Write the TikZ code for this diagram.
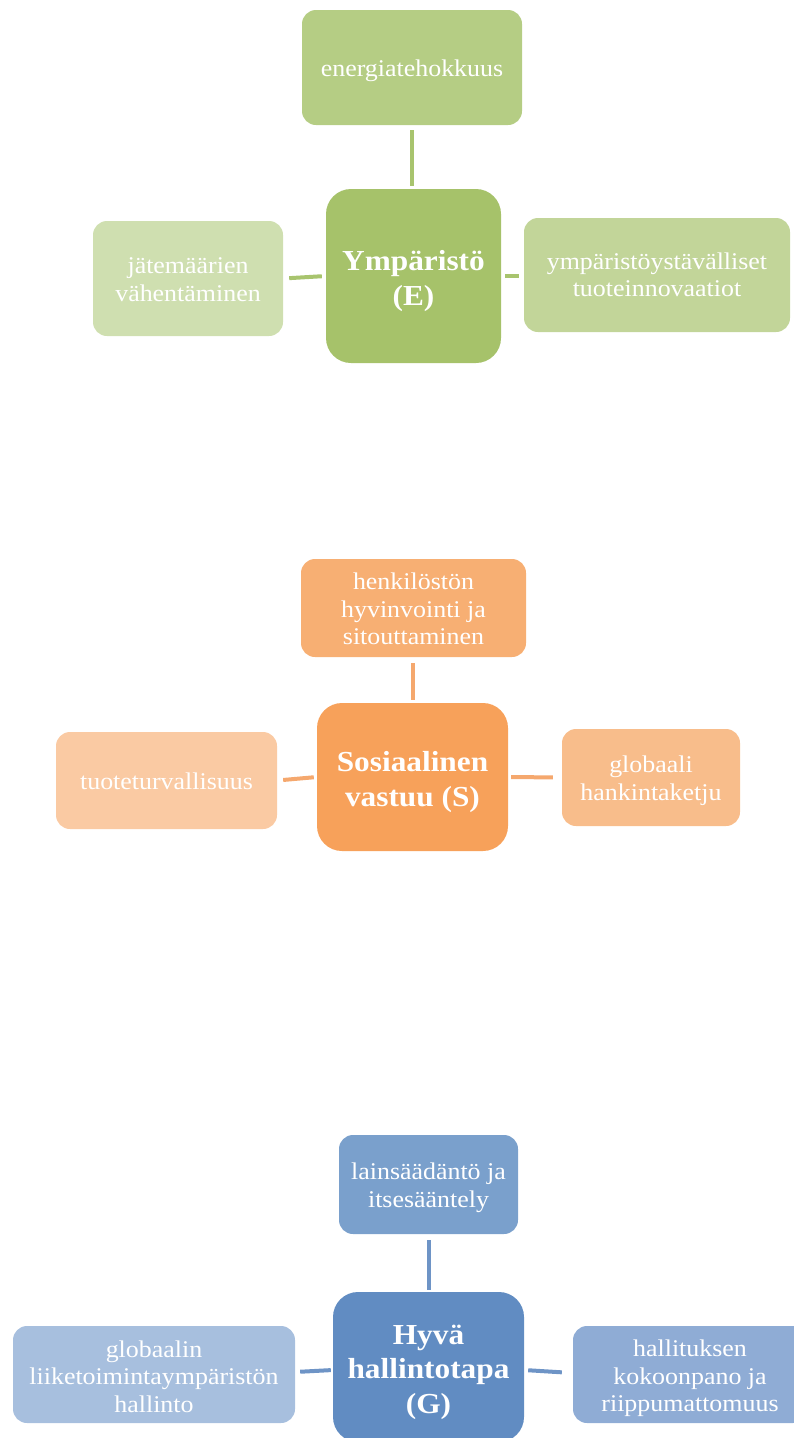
\documentclass[tikz,border=0pt]{standalone}
\usepackage{fontspec}
\setmainfont{Liberation Serif}[FakeStretch=1.08]
\definecolor{eC}{RGB}{166,194,106}
\definecolor{eT}{RGB}{181,205,132}
\definecolor{eR}{RGB}{194,213,153}
\definecolor{eL}{RGB}{207,223,176}
\definecolor{eLine}{RGB}{168,196,110}
\definecolor{sC}{RGB}{247,161,90}
\definecolor{sT}{RGB}{247,175,115}
\definecolor{sR}{RGB}{248,189,139}
\definecolor{sL}{RGB}{250,202,163}
\definecolor{sLine}{RGB}{245,168,110}
\definecolor{gC}{RGB}{97,140,194}
\definecolor{gT}{RGB}{122,160,204}
\definecolor{gR}{RGB}{143,172,213}
\definecolor{gL}{RGB}{167,191,222}
\definecolor{gLine}{RGB}{110,148,198}
\tikzset{
  leafbox/.style={draw=none, rounded corners=14pt, inner sep=0pt},
  hubbox/.style={draw=none, rounded corners=25pt, inner sep=0pt},
  leaftext/.style={inner sep=0pt, align=center, text=white,
    font=\fontsize{24}{27.5}\selectfont},
  hubtext/.style={inner sep=0pt, align=center, text=white,
    font=\fontsize{29}{34.5}\selectfont\bfseries},
  link/.style={line width=4pt}
}
\begin{document}
\begin{tikzpicture}[x=1pt,y=-1pt]
\useasboundingbox (0,0) rectangle (794,1438);
% ---------- E ----------
\node[leafbox, fill=eT, minimum width=220pt, minimum height=115pt] (eTn) at (412,67.5) {};
\node[hubbox, fill=eC, minimum width=175pt, minimum height=174pt] (eCn) at (413.5,276) {};
\node[leafbox, fill=eL, minimum width=190pt, minimum height=115pt] (eLn) at (188,278.5) {};
\node[leafbox, fill=eR, minimum width=266pt, minimum height=114pt] (eRn) at (657,275) {};
\node[leaftext, yshift=-3pt] (eTx) at (eTn.center) {energiatehokkuus};
\node[hubtext, yshift=-5pt] (eCx) at (eCn.center) {Ympäristö\\(E)};
\node[leaftext, yshift=-1pt] (eLx) at (eLn.center) {jätemäärien\\vähentäminen};
\node[leaftext, yshift=0pt] (eRx) at (eRn.center) {ympäristöystävälliset\\tuoteinnovaatiot};
\draw[link, eLine, shorten <=5pt, shorten >=3pt] (eTn.south) -- (eTn.south |- eCn.north);
\draw[link, eLine, shorten <=6pt, shorten >=4pt] (eLn.east) -- (eCn.west);
\draw[link, eLine, shorten <=4pt, shorten >=5pt] (eCn.east) -- (eCn.east -| eRn.west);
% ---------- S ----------
\node[leafbox, fill=sT, minimum width=225pt, minimum height=98pt] (sTn) at (413.5,608) {};
\node[hubbox, fill=sC, minimum width=191pt, minimum height=148pt] (sCn) at (412.5,777) {};
\node[leafbox, fill=sL, minimum width=221pt, minimum height=97pt] (sLn) at (166.5,780.5) {};
\node[leafbox, fill=sR, minimum width=178pt, minimum height=97pt] (sRn) at (651,777.5) {};
\node[leaftext, yshift=-1pt] (sTx) at (sTn.center) {henkilöstön\\hyvinvointi ja\\sitouttaminen};
\node[hubtext, yshift=-5pt] (sCx) at (sCn.center) {Sosiaalinen\\vastuu (S)};
\node[leaftext, yshift=-1pt] (sLx) at (sLn.center) {tuoteturvallisuus};
\node[leaftext, yshift=-3pt] (sRx) at (sRn.center) {globaali\\hankintaketju};
\draw[link, sLine, shorten <=6pt, shorten >=3pt] (sTn.south -| sCn.north) -- (sCn.north);
\draw[link, sLine, shorten <=6pt, shorten >=3pt] (sLn.east) -- (sCn.west);
\draw[link, sLine, shorten <=3pt, shorten >=9pt] (sCn.east) -- (sRn.west);
% ---------- G ----------
\node[leafbox, fill=gT, minimum width=179pt, minimum height=99pt] (gTn) at (428.5,1184.5) {};
\node[hubbox, fill=gC, minimum width=191pt, minimum height=150pt] (gCn) at (428.5,1367) {};
\node[leafbox, fill=gL, minimum width=282pt, minimum height=97pt] (gLn) at (154,1374.5) {};
\node[leafbox, fill=gR, minimum width=234pt, minimum height=97pt] (gRn) at (690,1374.5) {};
\node[leaftext, yshift=-3pt] (gTx) at (gTn.center) {lainsäädäntö ja\\itsesääntely};
\node[hubtext, yshift=-5pt] (gCx) at (gCn.center) {Hyvä\\hallintotapa\\(G)};
\node[leaftext, yshift=-2pt] (gLx) at (gLn.center) {globaalin\\liiketoimintaympäristön\\hallinto};
\node[leaftext, yshift=-4pt] (gRx) at (gRn.center) {hallituksen\\kokoonpano ja\\riippumattomuus};
\draw[link, gLine, shorten <=6pt, shorten >=2pt] (gTn.south) -- (gCn.north);
\draw[link, gLine, shorten <=5pt, shorten >=2pt] (gLn.east |- 0,1372) -- (gCn.west |- 0,1370);
\draw[link, gLine, shorten <=4pt, shorten >=11pt] (gCn.east |- 0,1370) -- (gRn.west |- 0,1373);
\end{tikzpicture}
\end{document}
